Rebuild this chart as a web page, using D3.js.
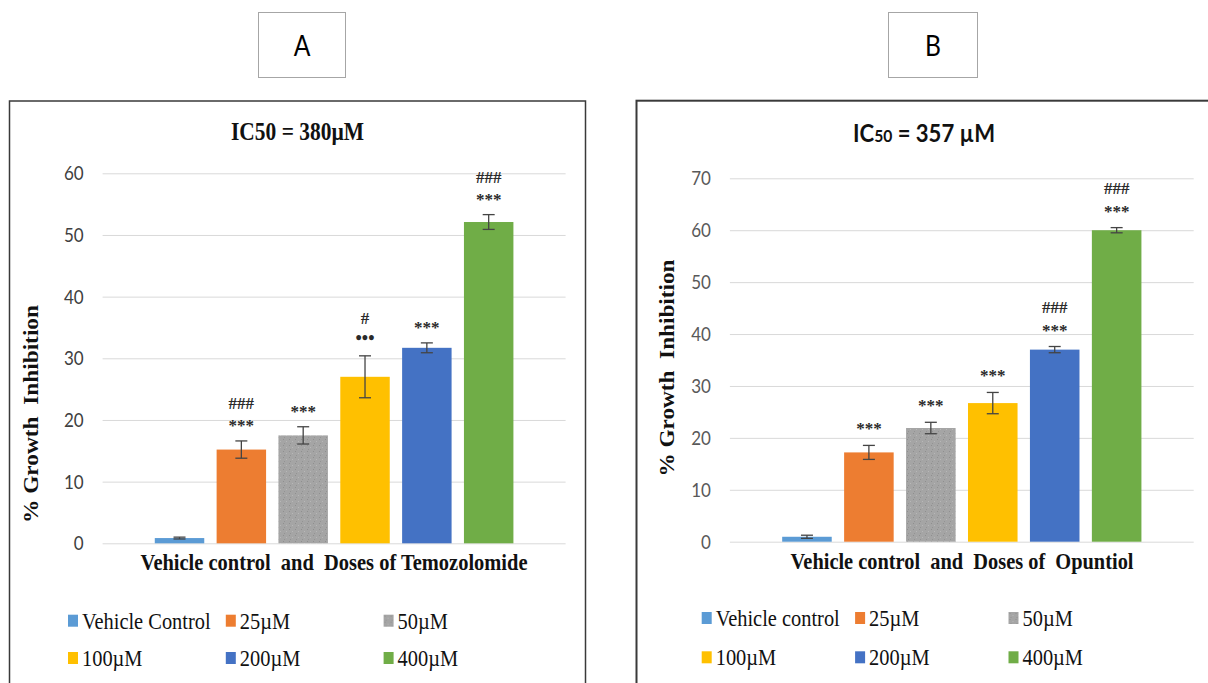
<!DOCTYPE html>
<html>
<head>
<meta charset="utf-8">
<script src="https://cdn.jsdelivr.net/npm/d3@7"></script>
<style>
body { margin: 0; background: #fff; }
svg { display: block; }
text { white-space: pre; }
</style>
</head>
<body>
<script>
// doses (legend names) and colours
const dosesA = ["Vehicle Control", "25µM", "50µM", "100µM", "200µM", "400µM"]
const dosesB = ["Vehicle control", "25µM", "50µM", "100µM", "200µM", "400µM"]
const colors = ["#5b9bd5", "#ed7d31", "#a5a5a5", "#ffc000", "#4472c4", "#70ad47"]

// panel A : temozolomide
const inhibA = [0.85, 15.2, 17.5, 27.0, 31.7, 52.1]
const errA = [0.15, 1.4, 1.4, 3.4, 0.8, 1.2]
const marksA = [[], ["###", "***"], ["***"], ["#", "•••"], ["***"], ["###", "***"]]
const ticksA = [0, 10, 20, 30, 40, 50, 60]

// panel B : opuntiol
const inhibB = [0.95, 17.2, 21.9, 26.7, 37.0, 60.0]
const errB = [0.3, 1.35, 1.1, 2.05, 0.6, 0.5]
const marksB = [[], ["***"], ["***"], ["***"], ["###", "***"], ["###", "***"]]
const ticksB = [0, 10, 20, 30, 40, 50, 60, 70]

const W = 1208, H = 683
const serif = "Liberation Serif, Times New Roman, serif"
const sans = "Lato, Carlito, Calibri, sans-serif"

let svg = d3.select("body").append("svg")
    .attr("width", W)
    .attr("height", H)

// grainy grey fill like the original bitmap
let pat = svg.append("defs").append("pattern")
    .attr("id", "grain")
    .attr("width", 6).attr("height", 6)
    .attr("patternUnits", "userSpaceOnUse")
pat.append("rect").attr("width", 6).attr("height", 6).attr("fill", "#a5a5a5")
pat.append("rect").attr("x", 1).attr("y", 1).attr("width", 1).attr("height", 1).attr("fill", "#8f8f8f")
pat.append("rect").attr("x", 4).attr("y", 3).attr("width", 1).attr("height", 1).attr("fill", "#b8b8b8")
pat.append("rect").attr("x", 2).attr("y", 5).attr("width", 1).attr("height", 1).attr("fill", "#939393")

function squish() {
    let w = this.getComputedTextLength()
    d3.select(this).attr("textLength", w * 0.85).attr("lengthAdjust", "spacingAndGlyphs")
}

function drawPanel(o) {
    let g = svg.append("g")

    // frame
    g.append("rect")
        .attr("x", o.frame[0]).attr("y", o.frame[1])
        .attr("width", o.frame[2]).attr("height", 700)
        .attr("fill", "none")
        .attr("stroke", "#3a3a3a")
        .attr("stroke-width", o.frameW)

    let y = d3.scaleLinear().domain([0, o.max]).range([o.y0, o.yTop])
    let x0 = d3.scaleBand().domain([o.cat]).range([o.left, o.right]).paddingOuter(0.124)
    let x1 = d3.scaleBand().domain(o.names).range([0, x0.bandwidth()])
        .paddingInner(0.2).paddingOuter(0.1)

    // gridlines
    g.append("g")
        .attr("transform", `translate(${o.left},0)`)
        .call(d3.axisLeft(y).tickValues(o.ticks).tickSize(-(o.right - o.left)).tickFormat(""))
        .call(a => a.select(".domain").remove())
        .selectAll("line").attr("stroke", "#d9d9d9").attr("stroke-width", 1)

    // tick labels
    g.append("g")
        .attr("transform", `translate(${o.left - 19},0)`)
        .call(d3.axisLeft(y).tickValues(o.ticks).tickSize(0).tickPadding(0))
        .call(a => a.select(".domain").remove())
        .selectAll("text")
        .attr("font-family", sans)
        .attr("font-size", 20)
        .attr("fill", o.tickColor)
        .each(squish)

    // bars
    let bx = i => x0(o.cat) + x1(o.names[i])
    g.selectAll(".bar").data(o.values).enter().append("rect")
        .attr("class", "bar")
        .attr("x", (d, i) => bx(i))
        .attr("y", d => y(d))
        .attr("width", x1.bandwidth())
        .attr("height", d => y(0) - y(d))
        .attr("fill", (d, i) => i == 2 ? "url(#grain)" : colors[i])

    // error bars
    let cx = i => bx(i) + x1.bandwidth() / 2
    let eb = g.selectAll(".err").data(o.values).enter().append("g").attr("class", "err")
        .attr("stroke", "#444").attr("stroke-width", 1.3)
    eb.append("line")
        .attr("x1", (d, i) => cx(i)).attr("x2", (d, i) => cx(i))
        .attr("y1", (d, i) => y(d + o.err[i])).attr("y2", (d, i) => y(d - o.err[i]))
    eb.append("line")
        .attr("x1", (d, i) => cx(i) - 6).attr("x2", (d, i) => cx(i) + 6)
        .attr("y1", (d, i) => y(d + o.err[i])).attr("y2", (d, i) => y(d + o.err[i]))
    eb.append("line")
        .attr("x1", (d, i) => cx(i) - 6).attr("x2", (d, i) => cx(i) + 6)
        .attr("y1", (d, i) => y(d - o.err[i])).attr("y2", (d, i) => y(d - o.err[i]))

    // significance marks
    o.marks.forEach((m, i) => {
        let top = y(o.values[i] + o.err[i])
        m.forEach((s, k) => {
            let c = top - o.gap1 - (m.length - 1 - k) * o.gap2
            g.append("text")
                .attr("x", cx(i))
                .attr("y", c + (s[0] == "*" ? 8 : 6))
                .attr("text-anchor", "middle")
                .attr("font-family", serif)
                .attr("font-weight", "bold")
                .attr("font-size", s[0] == "•" ? 18 : 17)
                .attr("fill", "#2a2a2a")
                .text(s)
        })
    })

    // x axis title
    g.append("text")
        .attr("x", o.xTitle[0]).attr("y", o.xTitle[1])
        .attr("text-anchor", "middle")
        .attr("font-family", serif).attr("font-weight", "bold").attr("font-size", 23)
        .attr("fill", "#111")
        .attr("textLength", o.xTitle[2]).attr("lengthAdjust", "spacingAndGlyphs")
        .text(o.cat)

    // y axis title
    g.append("text")
        .attr("transform", `translate(${o.yTitle[0]},${o.yTitle[1]}) rotate(-90)`)
        .attr("text-anchor", "middle")
        .attr("font-family", serif).attr("font-weight", "bold").attr("font-size", 20)
        .attr("fill", "#111")
        .attr("textLength", o.yTitle[2]).attr("lengthAdjust", "spacingAndGlyphs")
        .text("% Growth  Inhibition")

    // legend
    let leg = g.selectAll(".leg").data(o.names).enter().append("g").attr("class", "leg")
        .attr("transform", (d, i) => `translate(${o.legX + (i % 3) * o.legStep},${o.legY + Math.floor(i / 3) * o.legRow})`)
    leg.append("rect")
        .attr("x", 0).attr("y", -6)
        .attr("width", 10).attr("height", 12)
        .attr("fill", (d, i) => i == 2 ? "url(#grain)" : colors[i])
    leg.append("text")
        .attr("x", 14).attr("y", 8)
        .attr("font-family", serif).attr("font-size", 24)
        .attr("fill", "#111")
        .text(d => d)
        .each(squish)
}

// panel letters
function letterBox(x, y, w, h, s) {
    svg.append("rect")
        .attr("x", x).attr("y", y).attr("width", w).attr("height", h)
        .attr("fill", "#fff").attr("stroke", "#a6a6a6").attr("stroke-width", 1)
    svg.append("text")
        .attr("x", x + w / 2).attr("y", y + 43)
        .attr("text-anchor", "middle")
        .attr("font-family", sans).attr("font-size", 29)
        .attr("fill", "#000")
        .text(s)
        .each(squish)
}
letterBox(258.5, 12.5, 87, 65, "A")
letterBox(888.5, 12.5, 89, 65, "B")

drawPanel({
    frame: [9.5, 101, 576], frameW: 1.5,
    left: 102.6, right: 565.6, y0: 543.3, yTop: 173.3, max: 60,
    ticks: ticksA, tickColor: "#404040",
    cat: "Vehicle control  and  Doses of Temozolomide",
    names: dosesA, values: inhibA, err: errA, marks: marksA,
    gap1: 17.5, gap2: 20.5,
    xTitle: [334, 570, 387], yTitle: [38, 414, 218],
    legX: 68, legStep: 157.8, legY: 620.7, legRow: 37.3
})

drawPanel({
    frame: [636.5, 100.7, 600], frameW: 2,
    left: 729.9, right: 1193.7, y0: 541.7, yTop: 178.3, max: 70,
    ticks: ticksB, tickColor: "#595959",
    cat: "Vehicle control  and  Doses of  Opuntiol",
    names: dosesB, values: inhibB, err: errB, marks: marksB,
    gap1: 19, gap2: 21,
    xTitle: [962, 569, 343], yTitle: [673.5, 368, 217],
    legX: 701.7, legStep: 153.4, legY: 618, legRow: 39.3
})

// titles
svg.append("text")
    .attr("x", 297.5).attr("y", 139.5)
    .attr("text-anchor", "middle")
    .attr("font-family", serif).attr("font-weight", "bold").attr("font-size", 25)
    .attr("fill", "#111")
    .attr("textLength", 133).attr("lengthAdjust", "spacingAndGlyphs")
    .text("IC50 = 380µM")

let tB = svg.append("text")
    .attr("x", 924).attr("y", 142)
    .attr("text-anchor", "middle")
    .attr("font-family", sans).attr("font-weight", "bold").attr("font-size", 24)
    .attr("fill", "#111")
    .attr("textLength", 142).attr("lengthAdjust", "spacingAndGlyphs")
tB.append("tspan").text("IC")
tB.append("tspan").attr("font-size", 17).text("50")
tB.append("tspan").text(" = 357 µM")
</script>
</body>
</html>
